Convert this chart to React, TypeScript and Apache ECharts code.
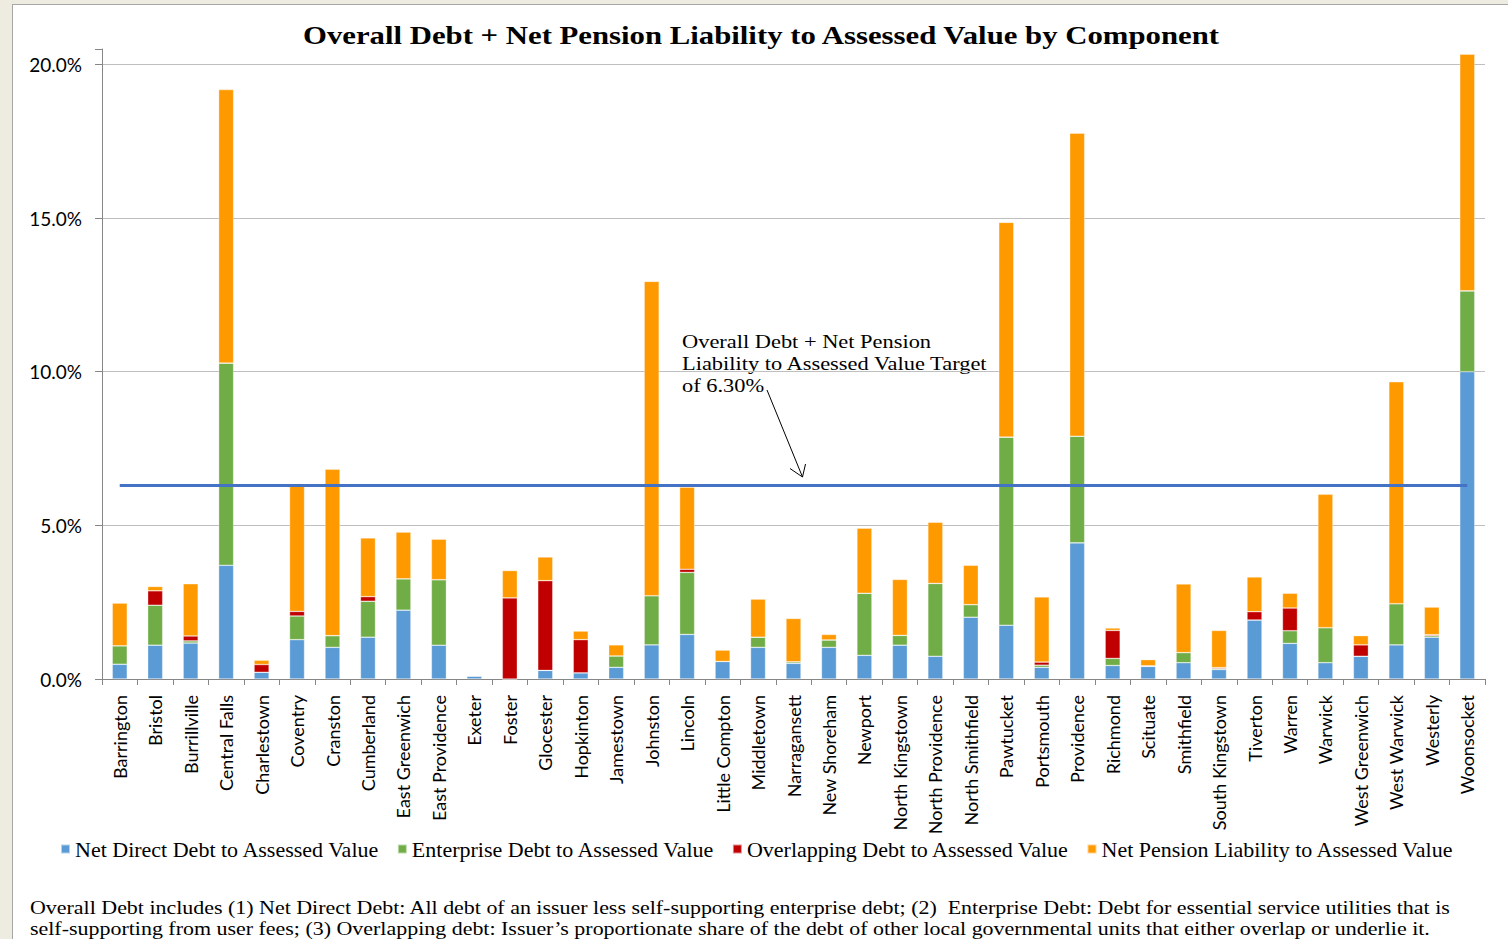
import React, { useEffect, useRef } from "react";
import * as echarts from "echarts";

const categories = [
  "Barrington", "Bristol", "Burrillville", "Central Falls", "Charlestown", "Coventry",
  "Cranston", "Cumberland", "East Greenwich", "East Providence", "Exeter", "Foster",
  "Glocester", "Hopkinton", "Jamestown", "Johnston", "Lincoln", "Little Compton",
  "Middletown", "Narragansett", "New Shoreham", "Newport", "North Kingstown",
  "North Providence", "North Smithfield", "Pawtucket", "Portsmouth", "Providence",
  "Richmond", "Scituate", "Smithfield", "South Kingstown", "Tiverton", "Warren",
  "Warwick", "West Greenwich", "West Warwick", "Westerly", "Woonsocket",
];

const netDirectDebt = [
  0.48, 1.10, 1.17, 3.70, 0.22, 1.28, 1.03, 1.36, 2.24, 1.10, 0.10, 0, 0.28, 0.20, 0.38,
  1.11, 1.45, 0.57, 1.03, 0.51, 1.03, 0.77, 1.10, 0.74, 2.01, 1.75, 0.38, 4.43, 0.44,
  0.41, 0.53, 0.31, 1.92, 1.16, 0.53, 0.74, 1.11, 1.36, 10.0,
];
const enterpriseDebt = [
  0.60, 1.30, 0.07, 6.58, 0, 0.77, 0.38, 1.17, 1.02, 2.13, 0, 0, 0, 0, 0.37,
  1.60, 2.02, 0, 0.33, 0.05, 0.24, 2.02, 0.32, 2.37, 0.41, 6.12, 0.07, 3.47, 0.23,
  0.02, 0.33, 0.03, 0, 0.41, 1.14, 0, 1.34, 0.05, 2.63,
];
const overlappingDebt = [
  0, 0.47, 0.16, 0, 0.25, 0.15, 0, 0.15, 0, 0, 0, 2.64, 2.92, 1.08, 0,
  0, 0.10, 0, 0, 0, 0, 0, 0, 0, 0, 0, 0.10, 0, 0.91,
  0, 0, 0.03, 0.27, 0.74, 0, 0.37, 0, 0.03, 0,
];
const netPension = [
  1.39, 0.14, 1.70, 8.90, 0.14, 4.08, 5.42, 1.91, 1.52, 1.32, 0, 0.89, 0.77, 0.28, 0.36,
  10.23, 2.67, 0.37, 1.24, 1.41, 0.18, 2.12, 1.82, 1.99, 1.28, 6.99, 2.12, 9.86, 0.08,
  0.20, 2.23, 1.21, 1.13, 0.48, 4.34, 0.30, 7.22, 0.90, 7.70,
];
const targetValue = 6.3;

const seriesNames = [
  "Net Direct Debt to Assessed Value",
  "Enterprise Debt to Assessed Value",
  "Overlapping Debt to Assessed Value",
  "Net Pension Liability to Assessed Value",
];
const seriesColors = ["#5B9BD5", "#70AD47", "#C00000", "#FF9900"];

const titleText = "Overall Debt + Net Pension Liability to Assessed Value by Component";
const annotationText =
  "Overall Debt + Net Pension\nLiability to Assessed Value Target\nof 6.30%";
const footnoteText =
  "Overall Debt includes (1) Net Direct Debt: All debt of an issuer less self-supporting enterprise debt; (2)  Enterprise Debt: Debt for essential service utilities that is\nself-supporting from user fees; (3) Overlapping debt: Issuer\u2019s proportionate share of the debt of other local governmental units that either overlap or underlie it.";

const SERIF = "'Liberation Serif', 'Times New Roman', serif";
const SANS = "Lato, 'Open Sans', sans-serif";

export default function App() {
  const ref = useRef<HTMLDivElement>(null);

  useEffect(() => {
    if (!ref.current) return;
    const chart = echarts.init(ref.current, null, { renderer: "svg" });
    const stacks = [netDirectDebt, enterpriseDebt, overlappingDebt, netPension];
    const barSeries = stacks.map((d, i) => ({
      name: seriesNames[i],
      type: "bar",
      stack: "total",
      data: d,
      barWidth: 15,
      itemStyle: {
        color: seriesColors[i],
        borderColor: "rgba(255,255,255,0.55)",
        borderWidth: 0.6,
      },
    }));
    chart.setOption({
      animation: false,
      backgroundColor: "transparent",
      grid: { left: 102, right: 23, top: 49, bottom: 260, containLabel: false },
      legend: {
        data: seriesNames,
        left: 55,
        top: 833,
        icon: "rect",
        itemWidth: 9,
        itemHeight: 9,
        itemGap: 17,
        textStyle: { fontFamily: SERIF, fontSize: 22, color: "#000" },
      },
      xAxis: {
        type: "category",
        data: categories,
        axisLine: { lineStyle: { color: "#868686", width: 1 } },
        axisTick: { show: true, length: 6, lineStyle: { color: "#868686" } },
        axisLabel: {
          rotate: 90,
          interval: 0,
          margin: 16,
          fontFamily: SANS,
          fontSize: 18,
          color: "#000",
        },
      },
      yAxis: {
        type: "value",
        min: 0,
        max: 20.5,
        interval: 5,
        axisLine: { show: true, lineStyle: { color: "#868686" } },
        axisTick: { show: true, length: 7, lineStyle: { color: "#868686" } },
        axisLabel: {
          margin: 20,
          fontFamily: SANS,
          fontSize: 19,
          color: "#000",
          formatter: (v: number) =>
            Math.abs(v / 5 - Math.round(v / 5)) < 1e-6 ? v.toFixed(1) + "%" : "",
        },
        splitLine: {
          show: true,
          showMaxLine: false,
          lineStyle: { color: "#BFBFBF", width: 1 },
        },
      },
      series: [
        ...barSeries,
        {
          name: "Target",
          type: "line",
          data: categories.map(() => targetValue),
          symbol: "none",
          z: 5,
          lineStyle: { color: "#4472C4", width: 3 },
        },
      ],
      graphic: [
        {
          type: "text",
          x: 761,
          y: 23,
          scaleX: 1.23,
          style: {
            text: titleText,
            fontFamily: SERIF,
            fontWeight: "bold",
            fontSize: 25,
            fill: "#000",
            textAlign: "center",
            textVerticalAlign: "top",
          },
        },
        {
          type: "text",
          x: 682,
          y: 330,
          scaleX: 1.18,
          style: {
            text: annotationText,
            fontFamily: SERIF,
            fontSize: 19,
            lineHeight: 22,
            fill: "#000",
            textVerticalAlign: "top",
          },
        },
        {
          type: "line",
          shape: { x1: 767, y1: 390, x2: 802.5, y2: 477 },
          style: { stroke: "#000", lineWidth: 1 },
        },
        {
          type: "polyline",
          shape: { points: [[790, 468.5], [802.5, 477], [805.5, 464]] },
          style: { stroke: "#000", lineWidth: 1, fill: "none" },
        },
        {
          type: "text",
          x: 30,
          y: 897,
          scaleX: 1.156,
          style: {
            text: footnoteText,
            fontFamily: SERIF,
            fontSize: 19,
            lineHeight: 21,
            fill: "#000",
            textVerticalAlign: "top",
          },
        },
      ],
    });
    return () => chart.dispose();
  }, []);

  return (
    <div
      style={{
        position: "fixed",
        left: 0,
        top: 0,
        width: 1508,
        height: 939,
        background: "#EEECE1",
        overflow: "hidden",
      }}
    >
      <div
        style={{
          position: "absolute",
          left: 12,
          top: 4,
          width: 1508 - 12,
          height: 939 - 4,
          background: "#FFFFFF",
          borderLeft: "1px solid #A6A6A6",
          borderTop: "1px solid #A6A6A6",
          boxSizing: "border-box",
        }}
      />
      <div
        ref={ref}
        style={{ position: "absolute", left: 0, top: 0, width: 1508, height: 939 }}
      />
    </div>
  );
}
